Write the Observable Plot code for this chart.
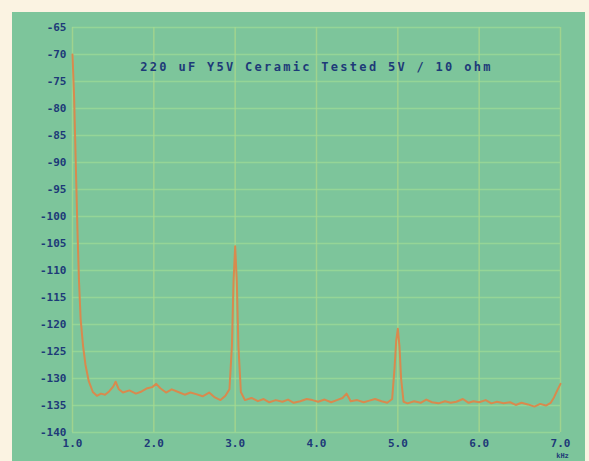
<!DOCTYPE html>
<html>
<head>
<meta charset="utf-8">
<script src="https://cdn.jsdelivr.net/npm/d3@7"></script>
<script src="https://cdn.jsdelivr.net/npm/@observablehq/plot@0.6"></script>
<style>
  html, body { margin: 0; padding: 0; background: #fbf3e2; }
  #wrap { position: absolute; left: 12px; top: 12px; }
  svg { display: block; }
</style>
</head>
<body>
<div id="wrap"></div>
<script>
const titleText = "220 uF Y5V Ceramic Tested 5V / 10 ohm";
const unitLabel = "kHz";
const xTicks = [1, 2, 3, 4, 5, 6, 7];
const yTicks = [-65, -70, -75, -80, -85, -90, -95, -100, -105, -110, -115, -120, -125, -130, -135, -140];

const freq = [
  1.00, 1.02, 1.04, 1.06, 1.08, 1.10, 1.13, 1.16, 1.20, 1.25, 1.30, 1.35, 1.40, 1.45, 1.50, 1.53, 1.57, 1.62,
  1.70, 1.78, 1.85, 1.92, 1.98, 2.03, 2.08, 2.15, 2.22, 2.30, 2.38, 2.45, 2.52, 2.60, 2.68, 2.75, 2.82, 2.88,
  2.93, 2.96, 2.98, 3.00, 3.02, 3.04, 3.07, 3.12, 3.20, 3.28, 3.35, 3.42, 3.50, 3.58, 3.65, 3.72, 3.80, 3.88,
  3.95, 4.02, 4.10, 4.18, 4.25, 4.32, 4.37, 4.42, 4.50, 4.58, 4.65, 4.72, 4.80, 4.87, 4.93, 4.96, 4.98, 5.00,
  5.02, 5.04, 5.07, 5.12, 5.20, 5.28, 5.35, 5.42, 5.50, 5.58, 5.65, 5.72, 5.80, 5.87, 5.93, 6.00, 6.08, 6.15,
  6.22, 6.30, 6.38, 6.45, 6.52, 6.60, 6.68, 6.75, 6.82, 6.88, 6.92, 6.96, 7.00
];
const level = [
  -70, -78, -90, -102, -112, -119, -124, -127.5, -130.5, -132.5, -133.2, -132.8, -133.0, -132.4, -131.5, -130.6, -132.0, -132.6,
  -132.2, -132.8, -132.4, -131.8, -131.6, -131.0, -131.8, -132.6, -132.0, -132.5, -133.0, -132.6, -132.9, -133.3, -132.6, -133.5, -134.0, -133.2,
  -132.0, -124, -112, -105.5, -112, -124, -132.5, -134.0, -133.6, -134.2, -133.8, -134.4, -134.0, -134.3, -133.9, -134.5, -134.2, -133.8,
  -134.0, -134.3, -133.9, -134.4, -134.0, -133.6, -132.8, -134.2, -134.0, -134.4, -134.1, -133.8, -134.2, -134.5, -133.8, -128, -123, -120.8,
  -124, -130, -134.3, -134.6, -134.2, -134.5, -133.9, -134.4, -134.6, -134.2, -134.5, -134.3, -133.8, -134.5, -134.2, -134.4, -134.0, -134.6,
  -134.3, -134.6, -134.4, -134.9, -134.5, -134.8, -135.2, -134.7, -135.0, -134.5, -133.5, -132.2, -131.0
];

const data = freq.map((f, i) => ({ f, db: level[i] }));
const navy = "#1d3a78";
const fontFam = "'DejaVu Sans Mono', monospace";

const chart = Plot.plot({
  width: 573,
  height: 449,
  marginLeft: 60,
  marginRight: 25,
  marginTop: 15,
  marginBottom: 29,
  style: { background: "#7dc59b", fontFamily: fontFam, overflow: "visible" },
  x: { domain: [1, 7] },
  y: { domain: [-140, -65] },
  marks: [
    Plot.gridX(xTicks, { stroke: "#b7dc86", strokeOpacity: 0.6, strokeWidth: 1.5 }),
    Plot.gridY(yTicks, { stroke: "#9fdc96", strokeOpacity: 0.7, strokeWidth: 1.5 }),
    Plot.axisY(yTicks, {
      tickSize: 0, tickPadding: 6, label: null,
      tickFormat: d => String(d),
      fill: navy, fontSize: 11, fontWeight: "bold", fontFamily: fontFam
    }),
    Plot.axisX(xTicks, {
      tickSize: 0, tickPadding: 7, label: null,
      tickFormat: d => d.toFixed(1),
      fill: navy, fontSize: 11, fontWeight: "bold", fontFamily: fontFam
    }),
    Plot.text([unitLabel], {
      frameAnchor: "bottom-right", dx: 2, dy: 25,
      fill: navy, fontSize: 7, fontWeight: "bold", fontFamily: fontFam, textAnchor: "middle"
    }),
    Plot.text([titleText], {
      frameAnchor: "top", dy: 35,
      fill: navy, fontSize: 12, fontWeight: "bold", fontFamily: fontFam
    }),
    Plot.line(data, { x: "f", y: "db", stroke: "#d88a4e", strokeWidth: 2 })
  ]
});
chart.querySelectorAll("text").forEach(t => {
  if (t.textContent === titleText) t.style.letterSpacing = "2.3px";
});
document.getElementById("wrap").append(chart);
</script>
</body>
</html>
